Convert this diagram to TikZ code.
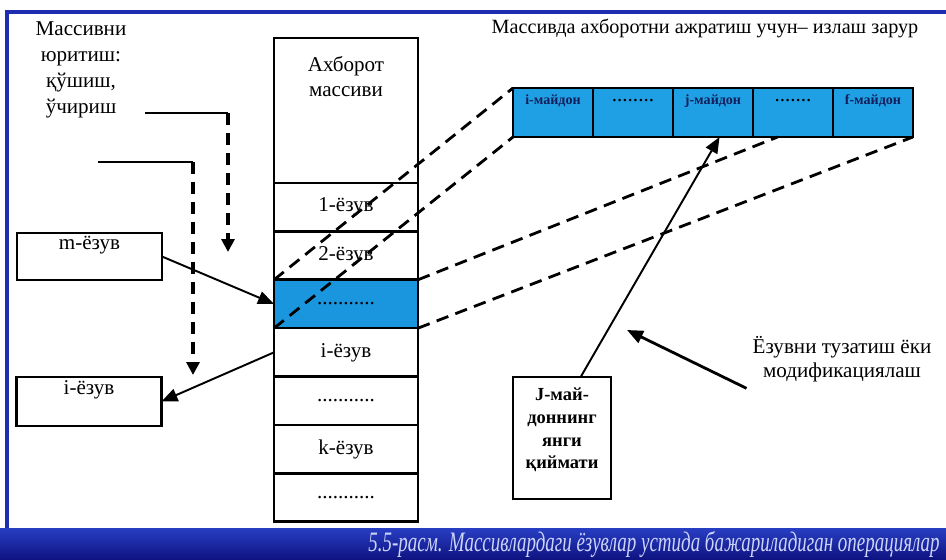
\documentclass[tikz,border=0pt]{standalone}
\usepackage{fontspec}
\setmainfont{Liberation Serif}
\usepackage{xcolor}
\usetikzlibrary{arrows.meta, positioning}

\definecolor{fieldblue}{RGB}{32,160,228}
\definecolor{rowblue}{RGB}{25,150,222}
\definecolor{frameblue}{RGB}{30,45,175}
\definecolor{navytxt}{RGB}{20,30,90}
\definecolor{captxt}{RGB}{205,212,250}
\definecolor{capup}{RGB}{40,62,195}
\definecolor{capdown}{RGB}{14,18,128}

\begin{document}
\begin{tikzpicture}[
  x=0.02cm, y=-0.02cm,
  font=\fontsize{12}{14}\selectfont,
  box/.style={draw, line width=1.5pt, inner sep=0pt, outer sep=0pt},
  rec/.style={box, minimum width=2.88cm, minimum height=0.968cm},
  lbox/.style={box, minimum width=2.9cm, minimum height=0.94cm, text depth=0.55cm},
  fld/.style={box, fill=fieldblue, minimum width=1.6cm, minimum height=0.98cm,
    text depth=0.5cm, font=\fontsize{8}{9}\selectfont\bfseries, text=navytxt},
  fdots/.style={fld, font=\fontsize{12}{14}\selectfont, text=black},
  arr/.style={line width=1.1pt, -{Triangle[length=3.2mm,width=2.6mm]}},
  dsh/.style={line width=1.6pt, dash pattern=on 2.5mm off 1.5mm},
  darr/.style={dsh, line width=2pt, -{Triangle[length=2.6mm,width=2.6mm]}}
]
  \useasboundingbox (0,0) rectangle (946,560);

  % frame and caption band
  \draw[frameblue, line width=2pt] (7,528) -- (7,12) -- (946,12);
  \fill[top color=capup, bottom color=capdown] (0,528) rectangle (946,560);
  \node[anchor=east, text=captxt, inner sep=0pt, font=\fontsize{16}{18}\selectfont\itshape] (cap) at (940,544)
    {\scalebox{0.675}[1]{5.5-расм. Массивлардаги ёзувлар устида бажариладиган операциялар}};

  % array of records
  \node[rec, minimum height=2.9cm,
    label={[anchor=north, align=center, yshift=-0.25cm]north:Ахборот\\массиви}] (hdr) at (346,110.5) {};
  \node[rec, below=0pt of hdr] (r1) {1-ёзув};
  \node[rec, below=0pt of r1] (r2) {2-ёзув};
  \node[rec, below=0pt of r2, fill=rowblue] (rsel) {...........};
  \node[rec, below=0pt of rsel] (ri) {i-ёзув};
  \node[rec, below=0pt of ri] (rdots) {...........};
  \node[rec, below=0pt of rdots] (rk) {k-ёзув};
  \node[rec, below=0pt of rk] (rend) {...........};

  % fields of a record
  \node[font=\fontsize{11.5}{13}\selectfont] (title) at (705,28) {Массивда ахборотни ажратиш учун– излаш зарур};
  \node[fld] (f1) at (553,112.5) {i-майдон};
  \node[fdots, right=0pt of f1] (f2) {........};
  \node[fld, right=0pt of f2] (f3) {j-майдон};
  \node[fdots, right=0pt of f3] (f4) {.......};
  \node[fld, right=0pt of f4] (f5) {f-майдон};

  % left side
  \node[align=center, font=\fontsize{12}{14.8}\selectfont] (ops) at (81,70) {Массивни\\юритиш:\\қўшиш,\\ўчириш};
  \node[lbox] (mrec) at (89.5,256.5) {m-ёзув};
  \node[lbox, minimum height=0.98cm] (irec) at (89,401.5) {i-ёзув};
  \coordinate (insA) at (145,113);
  \coordinate (insB) at (228,113);
  \coordinate (insC) at (228,252);
  \coordinate (delA) at (98,162);
  \coordinate (delB) at (193,162);
  \coordinate (delC) at (193,375);
  \draw[line width=1.5pt] (insA) -- (insB);
  \draw[darr] (insB) -- (insC);
  \draw[line width=1.5pt] (delA) -- (delB);
  \draw[darr] (delB) -- (delC);
  \draw[arr] (mrec.east) -- (rsel.west);
  \draw[arr] (ri.west) -- (irec.east);

  % right side
  \node[box, minimum width=1.96cm, minimum height=2.44cm,
    label={[anchor=north, align=center, yshift=-0.1cm, font=\fontsize{10.5}{12.9}\selectfont\bfseries]north:J-май-\\доннинг\\янги\\қиймати}] (jbox) at (562,438) {};
  \draw[arr] (jbox.73) -- (f3.285);
  \node[align=center] (modtxt) at (842,359) {Ёзувни тузатиш ёки\\модификациялаш};
  \coordinate (fix) at (627,330);
  \draw[arr, line width=1.6pt] (modtxt.south west) -- (fix);

  % record expanded into fields
  \draw[dsh] (rsel.north west) -- (f1.north west);
  \draw[dsh] (rsel.south west) -- (f1.south west);
  \draw[dsh] (rsel.north east) -- (f4.238);
  \draw[dsh] (rsel.south east) -- (f5.south east);
\end{tikzpicture}
\end{document}
